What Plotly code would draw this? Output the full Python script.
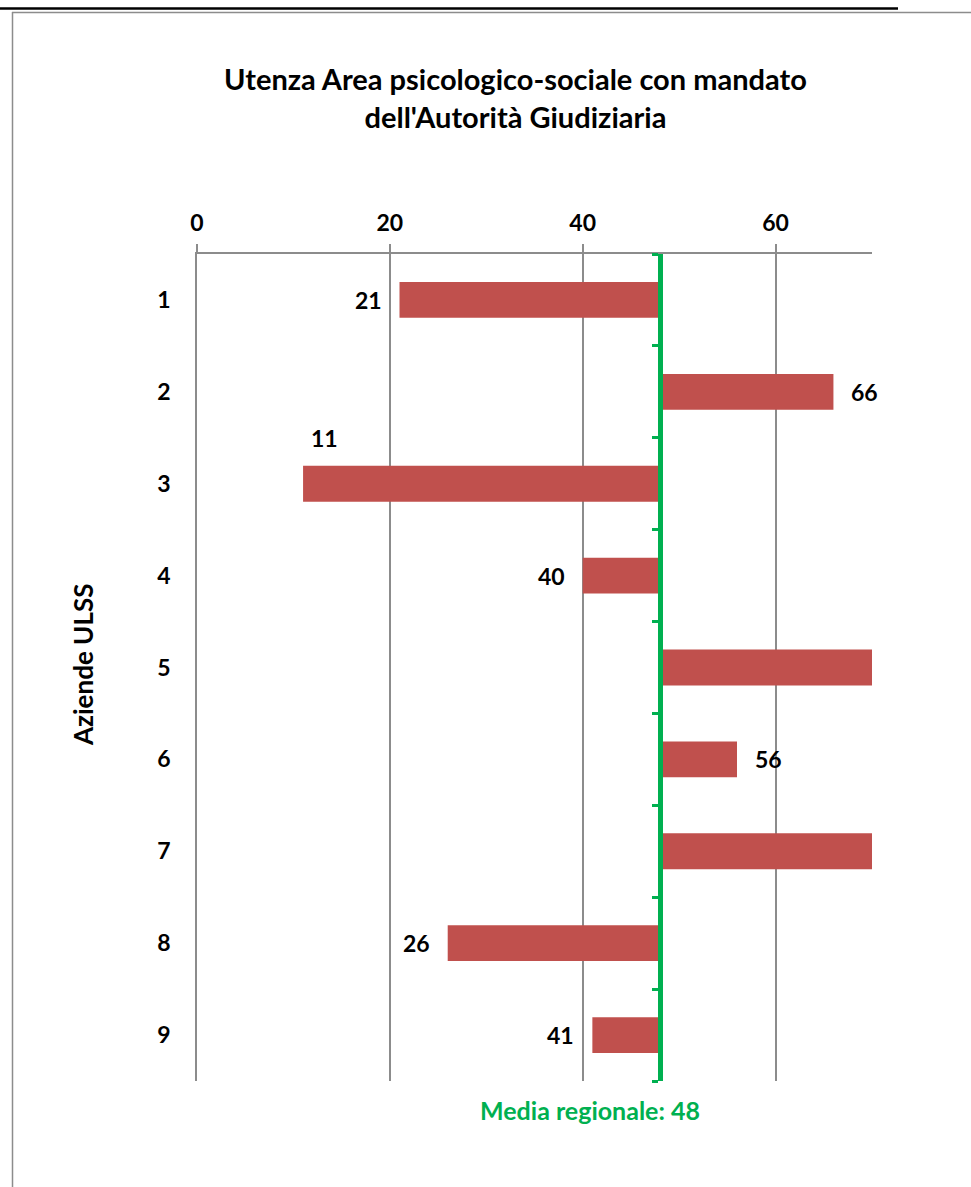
import plotly.graph_objects as go

# ---- data ----
aziende = [1, 2, 3, 4, 5, 6, 7, 8, 9]
utenza = [21, 66, 11, 40, 85, 56, 80, 26, 41]   # 5 and 7 exceed the axis (clipped)
media_regionale = 48
x_ticks = [0, 20, 40, 60]
x_max = 70

title_text = "Utenza Area psicologico-sociale con mandato<br>dell'Autorità Giudiziaria"
y_title = "Aziende ULSS"
media_label = f"Media regionale: {media_regionale}"

# ---- style ----
FONT = "Lato"
BAR = "#C0504D"
GREEN = "#00B050"
GRID = "#8C8C8C"
W, H = 971, 1187
ML, MR, MT, MB = 197, 99, 254, 106
PW, PH = W - ML - MR, H - MT - MB
LBL = 23


def px_x(px):
    return (px - ML) / PW


def px_y(py):
    return (H - MB - py) / PH


fig = go.Figure()
fig.add_trace(go.Bar(
    orientation="h",
    y=aziende,
    x=[v - media_regionale for v in utenza],
    base=media_regionale,
    marker=dict(color=BAR, line=dict(width=0)),
    width=0.39,
    hoverinfo="skip",
))
# invisible trace to hold the green axis
fig.add_trace(go.Scatter(x=[media_regionale], y=[aziende[0]], yaxis="y2",
                         mode="markers", marker=dict(opacity=0), hoverinfo="skip",
                         showlegend=False))

# data labels
special_above = {11}  # value whose label Excel moved above the bar
lfont = dict(family=FONT, size=LBL, color="black")
for cat, v in zip(aziende, utenza):
    if v > x_max:
        continue
    if v in special_above:
        fig.add_annotation(x=v, y=cat - 0.5, text=f"<b>{v}</b>", showarrow=False,
                           xanchor="left", xshift=6, yanchor="middle", font=lfont)
    elif v < media_regionale:
        fig.add_annotation(x=v, y=cat, text=f"<b>{v}</b>", showarrow=False,
                           xanchor="right", xshift=-16, yanchor="middle", font=lfont)
    else:
        fig.add_annotation(x=v, y=cat, text=f"<b>{v}</b>", showarrow=False,
                           xanchor="left", xshift=16, yanchor="middle", font=lfont)

fig.add_annotation(xref="paper", yref="paper", x=px_x(590), y=px_y(1110),
                   text=f"<b>{media_label}</b>", showarrow=False,
                   xanchor="center", yanchor="middle",
                   font=dict(family=FONT, size=25, color=GREEN))

fig.add_annotation(xref="paper", yref="paper", x=px_x(515), y=px_y(98),
                   text=f"<b>{title_text}</b>", showarrow=False,
                   xanchor="center", yanchor="middle",
                   font=dict(family=FONT, size=29, color="black"))

fig.add_annotation(xref="paper", yref="paper", x=px_x(83), y=px_y(665),
                   text=f"<b>{y_title}</b>", showarrow=False, textangle=-90,
                   xanchor="center", yanchor="middle",
                   font=dict(family=FONT, size=26, color="black"))

# frame decorations
fig.add_shape(type="line", xref="paper", yref="paper",
              x0=px_x(0), x1=px_x(898), y0=px_y(8.5), y1=px_y(8.5),
              line=dict(color="black", width=2.5))
fig.add_shape(type="line", xref="paper", yref="paper",
              x0=px_x(12), x1=px_x(971), y0=px_y(12.5), y1=px_y(12.5),
              line=dict(color="#8C8C8C", width=1.5))
fig.add_shape(type="line", xref="paper", yref="paper",
              x0=px_x(12.5), x1=px_x(12.5), y0=px_y(12), y1=px_y(1187),
              line=dict(color="#8C8C8C", width=1.5))

fig.update_layout(
    width=W, height=H,
    margin=dict(l=ML, r=MR, t=MT, b=MB),
    paper_bgcolor="white", plot_bgcolor="white",
    showlegend=False,
    xaxis=dict(
        side="top", range=[0, x_max], tickvals=x_ticks,
        showgrid=True, gridcolor=GRID, gridwidth=1.5,
        zeroline=False, showline=True, linecolor=GRID, linewidth=1.5,
        ticks="outside", ticklen=8, tickcolor=GRID, tickwidth=1.5,
        ticklabelstandoff=4,
        tickfont=dict(family=FONT, size=LBL, color="black", weight="bold"),
        fixedrange=True,
    ),
    yaxis=dict(
        range=[9.5, 0.5], tickvals=aziende, showgrid=False, zeroline=False,
        showline=True, linecolor=GRID, linewidth=1.5,
        ticks="", ticklabelstandoff=20,
        tickfont=dict(family=FONT, size=LBL, color="black", weight="bold"),
        fixedrange=True,
    ),
    yaxis2=dict(
        overlaying="y", anchor="free", position=media_regionale / x_max,
        range=[9.5, 0.5], tickvals=[a - 0.5 for a in aziende] + [aziende[-1] + 0.5],
        showticklabels=False, showgrid=False, zeroline=False,
        showline=True, linecolor=GREEN, linewidth=4.5,
        ticks="outside", ticklen=6, tickcolor=GREEN, tickwidth=3,
        fixedrange=True,
    ),
)

fig.write_html("out.html", config={"displayModeBar": False},
               post_script="document.body.style.margin='0';")
